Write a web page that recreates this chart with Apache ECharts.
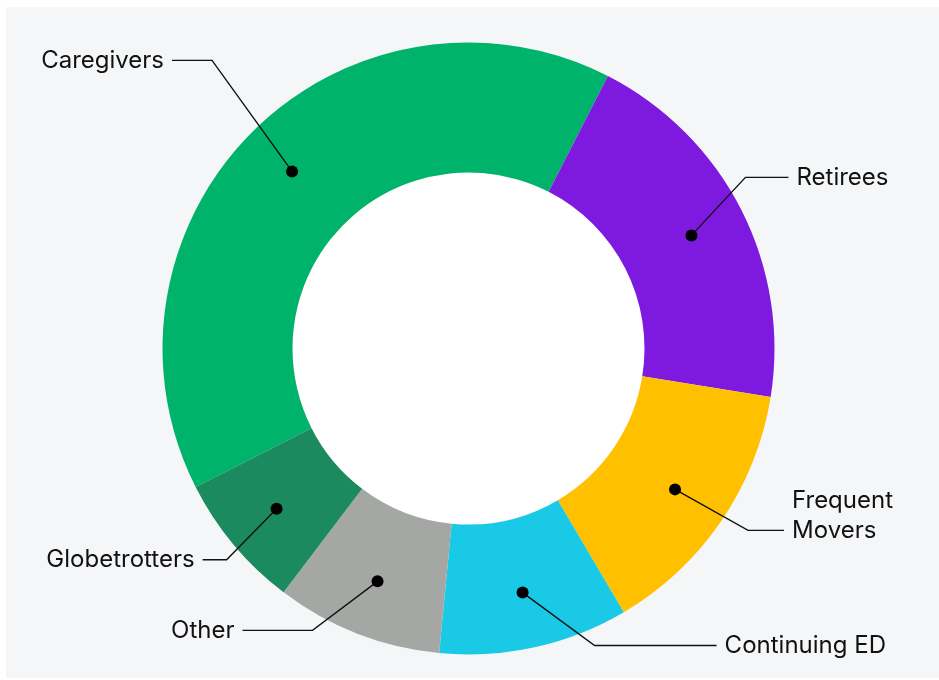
<!DOCTYPE html>
<html>
<head>
<meta charset="utf-8">
<script src="https://cdn.jsdelivr.net/npm/echarts@6/dist/echarts.min.js"></script>
<style>
  html, body { margin: 0; background: #ffffff; }
  #panel { position: absolute; left: 6px; top: 7px; width: 933px; height: 671px; background: #f5f6f8; }
  #chart { width: 100%; height: 100%; }
</style>
</head>
<body>
<div id="panel"><div id="chart"></div></div>
<script>
// Segment shares (% of respondents), clockwise from the Caregivers slice.
const SEGMENTS = ["Caregivers", "Retirees", "Frequent Movers", "Continuing ED", "Other", "Globetrotters"];
const SHARES = [40, 20, 14, 10, 8.8, 7.2];
const LABELS = ["Caregivers", "Retirees", "Frequent\nMovers", "Continuing ED", "Other", "Globetrotters"];

const COLORS = ["#00b36b", "#7e19df", "#ffc000", "#19c9e6", "#a5a7a5", "#1b8a5e"];
const INK = "#111111";
const FONT = 'Inter, "Noto Sans", sans-serif';
const FONT_SIZE = 24;
const LINE_H = 30;
const GAP = 8;

const CENTER = [462.5, 341.5];
const OUTER_R = 306;
const INNER_R = 176;
const DOT_R = 250;
const START_ANGLE = 206.9;

// Label guides: bend offset from the dot, then a horizontal run to the text.
const GUIDES = {
  "Caregivers": { dx: -80, dy: -111, run: 40 },
  "Retirees": { dx: 54, dy: -58, run: 43 },
  "Frequent Movers": { dx: 73, dy: 41, run: 36 },
  "Continuing ED": { dx: 72, dy: 53, run: 122 },
  "Other": { dx: -65, dy: 49, run: 70 },
  "Globetrotters": { dx: -50, dy: 51, run: 24 },
};

const total = SHARES.reduce((a, b) => a + b, 0);
let acc = 0;
const dotData = SHARES.map((v) => {
  const mid = acc + v / 2;
  acc += v;
  return [DOT_R, mid];
});

const chart = echarts.init(document.getElementById("chart"));

chart.setOption({
  animation: false,
  textStyle: { fontFamily: FONT },
  polar: { center: CENTER, radius: OUTER_R },
  angleAxis: {
    type: "value", min: 0, max: total, startAngle: START_ANGLE, clockwise: true, show: false,
  },
  radiusAxis: { type: "value", min: 0, max: OUTER_R, show: false },
  series: [
    // white hole of the donut
    {
      type: "pie",
      center: CENTER,
      radius: [0, INNER_R],
      silent: true,
      z: 1,
      label: { show: false },
      labelLine: { show: false },
      itemStyle: { color: "#ffffff", borderWidth: 0 },
      data: [{ name: "hole", value: 1 }],
    },
    {
      type: "pie",
      center: CENTER,
      radius: [INNER_R, OUTER_R],
      startAngle: START_ANGLE,
      clockwise: true,
      silent: true,
      z: 2,
      label: { show: false },
      labelLine: { show: false },
      itemStyle: { borderWidth: 0 },
      data: SEGMENTS.map((name, i) => ({
        name, value: SHARES[i], itemStyle: { color: COLORS[i] },
      })),
    },
    // transparent twin whose outer edge runs through the dots; carries the labels
    {
      type: "pie",
      center: CENTER,
      radius: [0, DOT_R],
      startAngle: START_ANGLE,
      clockwise: true,
      silent: true,
      z: 3,
      avoidLabelOverlap: false,
      itemStyle: { color: "rgba(0,0,0,0)", borderWidth: 0 },
      label: {
        show: true,
        position: "outside",
        formatter: (p) => LABELS[p.dataIndex],
        color: INK,
        fontFamily: FONT,
        fontSize: FONT_SIZE,
        lineHeight: LINE_H,
      },
      labelLine: {
        show: true,
        length: 15,
        length2: 15,
        lineStyle: { color: INK, width: 1.4 },
      },
      labelLayout: (p) => {
        const g = GUIDES[SEGMENTS[p.dataIndex]];
        const p0 = p.labelLinePoints[0];
        const side = g.dx < 0 ? -1 : 1;
        const bend = [p0[0] + g.dx, p0[1] + g.dy];
        const end = [bend[0] + side * g.run, bend[1]];
        const lines = LABELS[p.dataIndex].split("\n").length;
        return {
          x: end[0] + side * GAP,
          y: end[1] - (lines - 1) * LINE_H / 2,
          align: side < 0 ? "right" : "left",
          verticalAlign: "middle",
          labelLinePoints: [p0, bend, end],
        };
      },
      data: SEGMENTS.map((name, i) => ({ name, value: SHARES[i] })),
    },
    {
      type: "scatter",
      coordinateSystem: "polar",
      silent: true,
      z: 10,
      symbolSize: 12,
      itemStyle: { color: "#000000", opacity: 1 },
      data: dotData,
    },
  ],
});
</script>
</body>
</html>
